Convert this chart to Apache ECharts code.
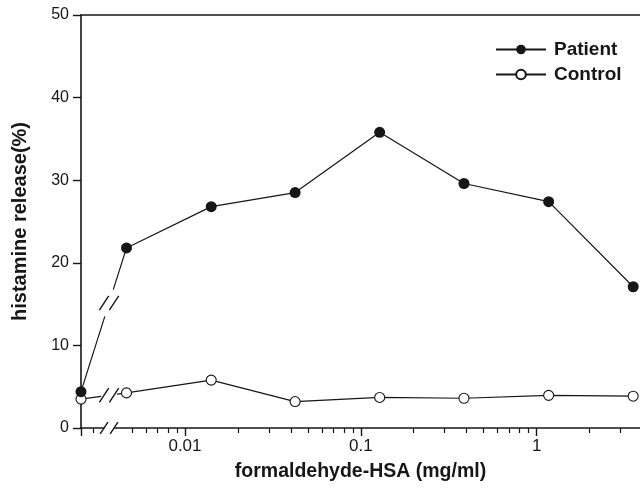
<!DOCTYPE html>
<html><head><meta charset="utf-8">
<script src="https://cdn.jsdelivr.net/npm/echarts@6/dist/echarts.min.js"></script>
<style>html,body{margin:0;padding:0;background:#fff}#c{width:640px;height:488px}</style>
</head><body><div id="c"></div>
<script>
// ---- data ----
const concentrations = [0.00465, 0.0141, 0.0423, 0.128, 0.386, 1.17, 3.54];
const baselineX = 0.002563;   // no-antigen point, drawn at the axis origin (left of the break)
const breakX = 0.0037;        // position of the axis break
const xMax = 3.87;
const patientValues = [4.4, 21.8, 26.8, 28.5, 35.8, 29.6, 27.4, 17.1];
const controlValues = [3.5, 4.25, 5.8, 3.2, 3.7, 3.6, 3.95, 3.85];
const xLabelValues = [0.01, 0.1, 1];
const xMajorTicks = [baselineX, 0.01, 0.1, 1];
const xMinorTicks = [0.003, 0.005, 0.006, 0.007, 0.008, 0.009,
  0.02, 0.03, 0.04, 0.05, 0.06, 0.07, 0.08, 0.09,
  0.2, 0.3, 0.4, 0.5, 0.6, 0.7, 0.8, 0.9, 2, 3];
const seriesNames = ['Patient', 'Control'];

const FONT = 'Liberation Sans, Arial, sans-serif';
const INK = '#161616';
const xs = [baselineX].concat(concentrations);
const pairs = vals => xs.map((x, i) => [x, vals[i]]);

const chart = echarts.init(document.getElementById('c'), null, {renderer: 'canvas'});
chart.setOption({
  animation: false,
  backgroundColor: '#fff',
  grid: {left: 81, right: 0, top: 15, bottom: 60, containLabel: false, outerBoundsMode: 'none'},
  legend: {
    orient: 'vertical', left: 490, top: 35, itemWidth: 50, itemHeight: 12, itemGap: 6,
    data: seriesNames,
    textStyle: {fontFamily: FONT, fontSize: 19, fontWeight: 'bold', color: INK, padding: [0, 0, 0, 3]}
  },
  xAxis: [
    {
      type: 'log', logBase: 10, min: baselineX, max: xMax,
      position: 'bottom',
      name: 'formaldehyde-HSA (mg/ml)', nameLocation: 'middle', nameGap: 34,
      nameTextStyle: {fontFamily: FONT, fontSize: 19.5, fontWeight: 'bold', color: INK},
      axisLine: {show: true, lineStyle: {color: INK, width: 1.6}},
      axisTick: {show: true, length: 8, inside: false, customValues: xMajorTicks, lineStyle: {color: INK, width: 1.4}},
      axisLabel: {show: true, customValues: xLabelValues, margin: 10, fontFamily: FONT, fontSize: 17, color: INK,
        formatter: v => String(+v.toPrecision(3))},
      splitLine: {show: false}, minorTick: {show: false}
    },
    {
      type: 'log', logBase: 10, min: baselineX, max: xMax, position: 'bottom',
      axisLine: {show: false},
      axisTick: {show: true, length: 5, customValues: xMinorTicks, lineStyle: {color: INK, width: 1.2}},
      axisLabel: {show: false}, splitLine: {show: false}
    },
    {
      type: 'value', min: 0, max: 1, position: 'top',
      axisLine: {show: true, lineStyle: {color: INK, width: 1.6}},
      axisTick: {show: false}, axisLabel: {show: false}, splitLine: {show: false}
    }
  ],
  yAxis: {
    type: 'value', min: 0, max: 50, interval: 10,
    name: 'histamine release(%)', nameLocation: 'middle', nameGap: 51,
    nameTextStyle: {fontFamily: FONT, fontSize: 20, fontWeight: 'bold', color: INK},
    axisLine: {show: true, lineStyle: {color: INK, width: 1.6}},
    axisTick: {show: true, length: 8, lineStyle: {color: INK, width: 1.4}},
    axisLabel: {margin: 12, fontFamily: FONT, fontSize: 16, color: INK},
    splitLine: {show: false}
  },
  series: [
    {
      name: seriesNames[0], type: 'line', data: pairs(patientValues),
      symbol: 'circle', symbolSize: 11,
      itemStyle: {color: INK},
      lineStyle: {color: INK, width: 1.2}, z: 3
    },
    {
      name: seriesNames[1], type: 'line', data: pairs(controlValues),
      symbol: 'circle', symbolSize: 10,
      itemStyle: {color: '#fff', borderColor: INK, borderWidth: 1.1},
      lineStyle: {color: INK, width: 1.2}, z: 2
    }
  ]
});

// ---- axis-break marks, positioned through the chart's own scales ----
function px(x, y) { return chart.convertToPixel({xAxisIndex: 0, yAxisIndex: 0}, [x, y]); }
const g = [];
const SL = [0.55, -0.835];
function slashes(p, h, off) {
  for (const o of [-off, off]) {
    g.push({type: 'line', z: 101, silent: true,
      shape: {x1: p[0] + o - h * SL[0], y1: p[1] - h * SL[1], x2: p[0] + o + h * SL[0], y2: p[1] + h * SL[1]},
      style: {stroke: INK, lineWidth: 1.4}});
  }
}
function lineBreak(vals, gap) {
  const a = px(baselineX, vals[0]), b = px(concentrations[0], vals[1]);
  const bx = px(breakX, 0)[0];
  const t = (bx - a[0]) / (b[0] - a[0]);
  const p = [a[0] + t * (b[0] - a[0]), a[1] + t * (b[1] - a[1])];
  const L = Math.hypot(b[0] - a[0], b[1] - a[1]);
  const d = [(b[0] - a[0]) / L, (b[1] - a[1]) / L];
  g.push({type: 'line', z: 100, silent: true,
    shape: {x1: p[0] - gap * d[0], y1: p[1] - gap * d[1], x2: p[0] + gap * d[0], y2: p[1] + gap * d[1]},
    style: {stroke: '#fff', lineWidth: 4}});
  slashes(p, 8.5, 5);
}
lineBreak(patientValues, 14);
lineBreak(controlValues, 8);
const ax = px(breakX, 0);
g.push({type: 'rect', z: 100, silent: true, shape: {x: ax[0] - 5, y: ax[1] - 2, width: 10, height: 4}, style: {fill: '#fff'}});
slashes(ax, 7, 5);
chart.setOption({graphic: g});
</script>
</body></html>
